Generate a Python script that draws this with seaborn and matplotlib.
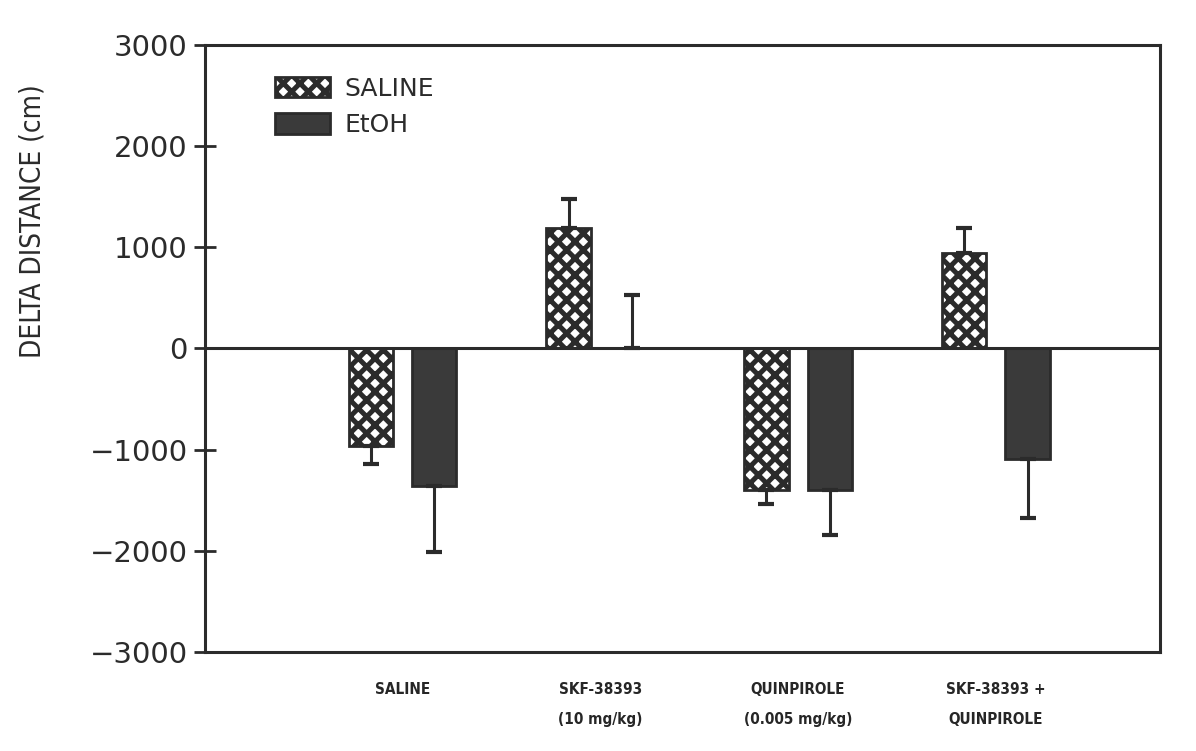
import pandas as pd
import matplotlib
matplotlib.use("Agg")
import matplotlib.pyplot as plt
import seaborn as sns
from matplotlib.patches import Patch

# treatment groups on the x axis
groups = ["SALINE", "SKF-38393\n(10 mg/kg)", "QUINPIROLE\n(0.005 mg/kg)",
          "SKF-38393 +\nQUINPIROLE"]
pretreat = ["SALINE", "EtOH"]

# mean delta distance (cm)
saline_vals = [-960, 1190, -1400, 940]
etoh_vals = [-1360, 0, -1400, -1090]

# one-sided SEM bars (drawn away from zero)
saline_err = [180, 290, 140, 250]
etoh_err = [650, 530, 440, 590]

df = pd.DataFrame({
    "group": groups * 2,
    "pretreat": [pretreat[0]] * 4 + [pretreat[1]] * 4,
    "value": saline_vals + etoh_vals,
})

INK = "#2b2b2b"

sns.set_style("white")
plt.rcParams["font.family"] = ["DejaVu Sans"]
plt.rcParams["hatch.linewidth"] = 3.6
plt.rcParams["hatch.color"] = INK

fig = plt.figure(figsize=(11.96, 7.51), dpi=100)
ax = fig.add_axes([0.171, 0.132, 0.799, 0.808])

sns.barplot(data=df, x="group", y="value", hue="pretreat", order=groups,
            hue_order=pretreat, width=0.64, gap=0.3, errorbar=None,
            palette={"SALINE": "white", "EtOH": "#3a3a3a"},
            edgecolor=INK, linewidth=2, ax=ax, legend=False)

n = len(groups)
bars = ax.patches[:2 * n]
for p in bars[:n]:
    p.set_hatch("xx")

# error bars from the bar positions
for p, val, err in zip(bars, saline_vals + etoh_vals, saline_err + etoh_err):
    xc = p.get_x() + p.get_width() / 2
    if val >= 0:
        yerr = [[0], [err]]
    else:
        yerr = [[err], [0]]
    ax.errorbar([xc], [val], yerr=yerr, fmt="none", ecolor=INK,
                elinewidth=2.2, capsize=6, capthick=3)

ax.axhline(0, color=INK, lw=2.2, zorder=1)

ax.set_ylim(-3000, 3000)
ax.set_xlim(-1.0, 3.83)
ax.set_yticks([-3000, -2000, -1000, 0, 1000, 2000, 3000])
ax.tick_params(axis="y", direction="inout", length=16, width=2,
               labelsize=21, pad=4, left=True, colors=INK)
ax.tick_params(axis="x", length=0, pad=22, labelsize=11)
for lab in ax.get_xticklabels():
    lab.set_fontweight("bold")
    lab.set_fontstretch("condensed")
    lab.set_linespacing(2.2)
    lab.set_verticalalignment("top")

for s in ax.spines.values():
    s.set_visible(True)
    s.set_color(INK)
    s.set_linewidth(2.2)

ax.set_xlabel("")
ax.set_ylabel("DELTA DISTANCE (cm)", fontsize=20, color=INK,
              fontstretch="condensed")
ax.yaxis.set_label_coords(-0.165, 0.71)

# legend
handles = [Patch(facecolor="white", edgecolor=INK, hatch="xx", lw=2),
           Patch(facecolor="#3a3a3a", edgecolor=INK, lw=2)]
leg = ax.legend(handles, pretreat, loc="upper left", bbox_to_anchor=(0.05, 0.985),
                frameon=False, fontsize=18, handlelength=2.2, handleheight=0.9,
                labelspacing=0.5, handletextpad=0.6)
for t in leg.get_texts():
    t.set_color(INK)

fig.savefig("out.png", dpi=100)
